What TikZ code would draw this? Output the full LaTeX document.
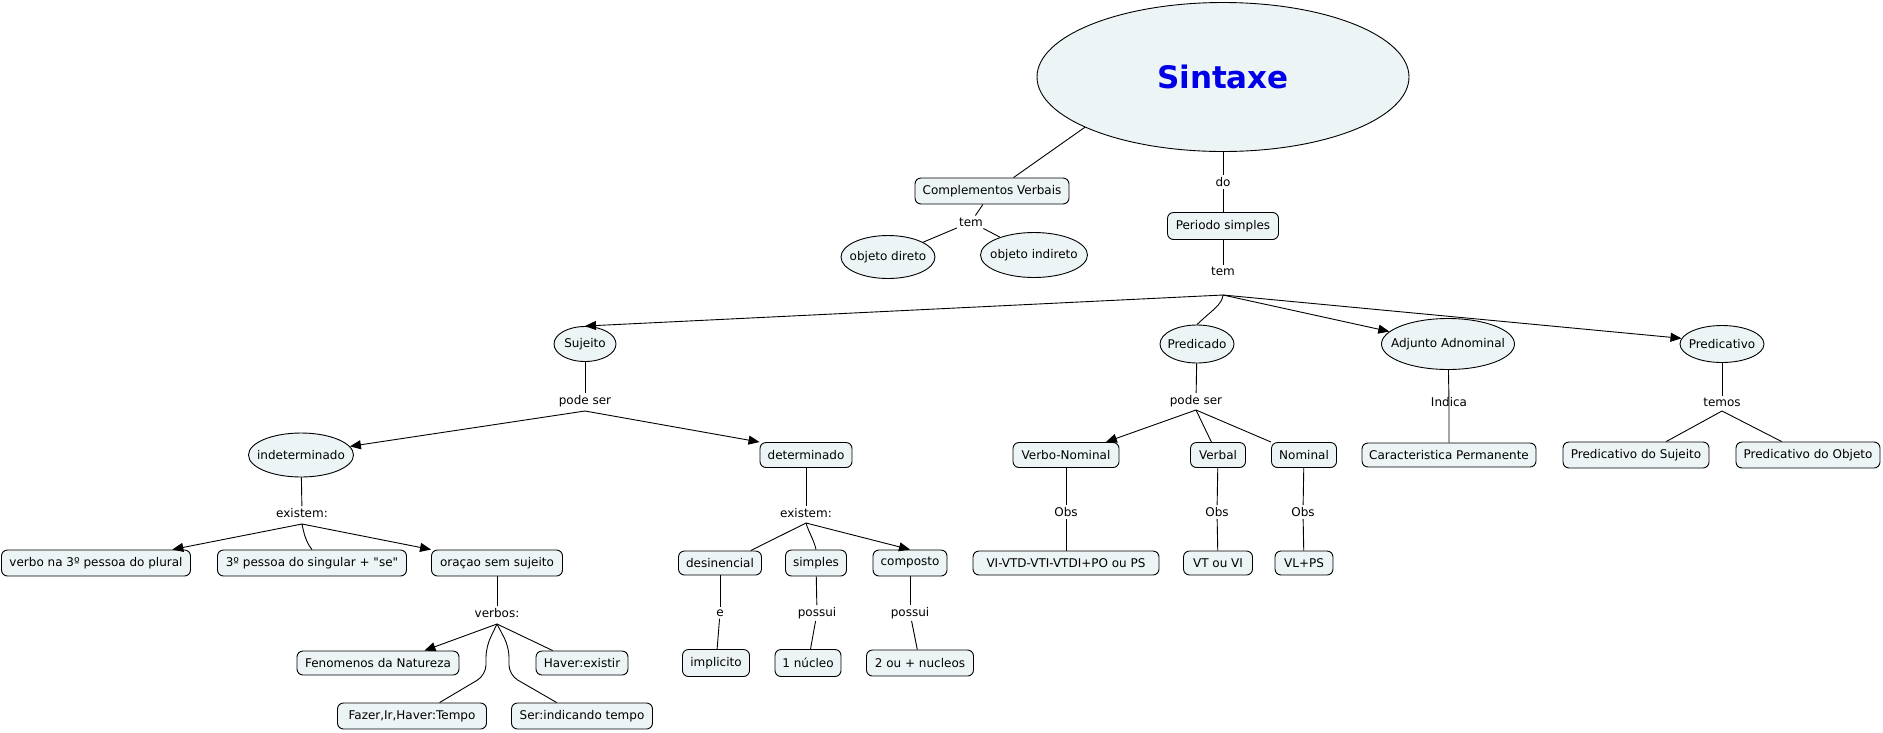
\documentclass[tikz,border=0pt]{standalone}
\usepackage{fontspec}
\setmainfont{DejaVu Sans}[Ligatures=TeXOff]
\usetikzlibrary{arrows.meta,shapes.geometric}
\definecolor{cfill}{RGB}{237,244,246}
\definecolor{sblue}{RGB}{0,0,230}
\begin{document}
\begin{tikzpicture}[x=1pt,y=-1pt,
 base/.style={draw=black, line width=0.9pt, fill=cfill, inner sep=0pt, font=\fontsize{12}{14}\selectfont},
 cbox/.style={base, rectangle, rounded corners=6pt},
 cell/.style={base, ellipse, execute at begin node={\hbox to 0pt\bgroup\hss}, execute at end node={\hss\egroup}},
 lnk/.style={inner sep=2pt, font=\fontsize{12}{14}\selectfont},
 con/.style={line width=0.9pt},
 arr/.style={con, -{Triangle[length=11pt,width=9pt]}}]
\useasboundingbox (0,0) rectangle (1883,732);
% concepts
\node[cell, minimum width=372pt, minimum height=149pt, font=\fontsize{31}{36}\selectfont\bfseries, text=sblue] (Sintaxe) at (1223,77) {Sintaxe};
\node[cbox, minimum width=154pt, minimum height=26pt] (CV) at (992,191) {Complementos Verbais};
\node[cbox, minimum width=111pt, minimum height=27pt] (PS) at (1223,226) {Periodo simples};
\node[cell, minimum width=94pt, minimum height=43pt] (OD) at (888,257) {objeto direto};
\node[cell, minimum width=107pt, minimum height=45pt] (OI) at (1034,255) {objeto indireto};
\node[cell, minimum width=62pt, minimum height=35pt] (Suj) at (585,344) {Sujeito};
\node[cell, minimum width=74pt, minimum height=38pt] (Pred) at (1197,344) {Predicado};
\node[cell, minimum width=133pt, minimum height=51pt] (Adj) at (1448,344) {Adjunto Adnominal};
\node[cell, minimum width=84pt, minimum height=37pt] (Predv) at (1722,344) {Predicativo};
\node[cell, minimum width=105pt, minimum height=44pt] (Indet) at (301,455) {indeterminado};
\node[cbox, minimum width=92pt, minimum height=25pt] (Det) at (806,455) {determinado};
\node[cbox, minimum width=106pt, minimum height=25pt] (VN) at (1066,455) {Verbo-Nominal};
\node[cbox, minimum width=55pt, minimum height=25pt] (Verbal) at (1218,455) {Verbal};
\node[cbox, minimum width=65pt, minimum height=25pt] (Nominal) at (1304,455) {Nominal};
\node[cbox, minimum width=174pt, minimum height=24pt] (Carac) at (1449,455) {Caracteristica Permanente};
\node[cbox, minimum width=146pt, minimum height=26pt] (PSuj) at (1636,455) {Predicativo do Sujeito};
\node[cbox, minimum width=144pt, minimum height=26pt] (PObj) at (1808,455) {Predicativo do Objeto};
\node[cbox, minimum width=189pt, minimum height=26pt] (V3) at (96,563) {verbo na 3º pessoa do plural};
\node[cbox, minimum width=189pt, minimum height=26pt] (S3) at (312,563) {3º pessoa do singular + "se"};
\node[cbox, minimum width=131pt, minimum height=26pt] (Or) at (497,563) {oraçao sem sujeito};
\node[cbox, minimum width=83pt, minimum height=24pt] (Des) at (720,563) {desinencial};
\node[cbox, minimum width=61pt, minimum height=26pt] (Simp) at (816,563) {simples};
\node[cbox, minimum width=74pt, minimum height=26pt] (Comp) at (910,563) {composto};
\node[cbox, minimum width=186pt, minimum height=24pt] (VI) at (1066,563) {VI-VTD-VTI-VTDI+PO ou PS};
\node[cbox, minimum width=69pt, minimum height=24pt] (VT) at (1218,563) {VT ou VI};
\node[cbox, minimum width=58pt, minimum height=24pt] (VL) at (1304,563) {VL+PS};
\node[cbox, minimum width=162pt, minimum height=24pt] (Fen) at (378,663) {Fenomenos da Natureza};
\node[cbox, minimum width=92pt, minimum height=24pt] (Hav) at (582,663) {Haver:existir};
\node[cbox, minimum width=67pt, minimum height=27pt] (Imp) at (716,663) {implicito};
\node[cbox, minimum width=66pt, minimum height=27pt] (Nuc1) at (808,663) {1 núcleo};
\node[cbox, minimum width=107pt, minimum height=26pt] (Nuc2) at (920,663) {2 ou + nucleos};
\node[cbox, minimum width=149pt, minimum height=26pt] (Faz) at (412,716) {Fazer,Ir,Haver:Tempo};
\node[cbox, minimum width=141pt, minimum height=26pt] (Ser) at (582,716) {Ser:indicando tempo};
% link labels
\node[lnk] (do) at (1223,182) {do};
\node[lnk] (temA) at (971,222) {tem};
\node[lnk] (temB) at (1223,271) {tem};
\node[lnk] (psS) at (585,401) {pode ser};
\node[lnk] (psP) at (1196,401) {pode ser};
\node[lnk] (ind) at (1449,402) {Indica};
\node[lnk] (temos) at (1722,402) {temos};
\node[lnk] (exI) at (302,513) {existem:};
\node[lnk] (exD) at (806,513) {existem:};
\node[lnk] (obs1) at (1066,512) {Obs};
\node[lnk] (obs2) at (1217,512) {Obs};
\node[lnk] (obs3) at (1303,512) {Obs};
\node[lnk] (verbos) at (497,613) {verbos:};
\node[lnk] (e) at (720,613) {e};
\node[lnk] (pos1) at (817,613) {possui};
\node[lnk] (pos2) at (910,613) {possui};
% junctions
\coordinate (jTem) at (1223,295);
\coordinate (jPS) at (585,411);
\coordinate (jPP) at (1196,410);
\coordinate (jTemos) at (1722,411);
\coordinate (jExI) at (302,524);
\coordinate (jExD) at (806,523);
\coordinate (jVerb) at (497,624);
% connectors
\draw[con] (Sintaxe.200) -- (CV.32);
\draw[con] (Sintaxe) -- (do);
\draw[con] (do) -- (PS);
\draw[con] (CV) -- (temA);
\draw[con] (temA) -- (OD);
\draw[con] (temA) -- (OI);
\draw[con] (PS) -- (temB);
\draw[arr] (jTem) -- (Suj.north);
\draw[con] (jTem) .. controls (1222,305) and (1212,310) .. (Pred.north);
\draw[arr] (jTem) -- (Adj.168);
\draw[arr] (jTem) -- (Predv.172);
% Sujeito
\draw[con] (Suj) -- (psS);
\draw[arr] (jPS) -- (Indet.10);
\draw[arr] (jPS) -- (Det.north west);
\draw[con] (Indet) -- (exI);
\draw[arr] (jExI) -- (V3.10);
\draw[con] (jExI) .. controls (304,534) and (306,542) .. (S3.north);
\draw[arr] (jExI) -- (Or.north west);
\draw[con] (Or) -- (verbos);
\draw[arr] (jVerb) -- (Fen.15);
\draw[con] (jVerb) -- (Hav.157);
\draw[con, rounded corners=10pt] (jVerb) -- (486,647) -- (486,675) -- (Faz.26);
\draw[con, rounded corners=10pt] (jVerb) -- (509,647) -- (509,675) -- (Ser.152);
\draw[con] (Det) -- (exD);
\draw[con] (jExD) -- (Des.22);
\draw[con] (jExD) .. controls (809,533) and (814,540) .. (Simp.north);
\draw[arr] (jExD) -- (Comp.north);
\draw[con] (Des) -- (e);
\draw[con] (e) -- (Imp);
\draw[con] (Simp) -- (pos1);
\draw[con] (pos1) -- (Nuc1);
\draw[con] (Comp) -- (pos2);
\draw[con] (pos2) -- (Nuc2);
% Predicado
\draw[con] (Pred) -- (psP);
\draw[arr] (jPP) -- (VN.18);
\draw[con] (jPP) -- (Verbal.117);
\draw[con] (jPP) -- (Nominal.north west);
\draw[con] (VN) -- (obs1);
\draw[con] (obs1) -- (VI);
\draw[con] (Verbal) -- (obs2);
\draw[con] (obs2) -- (VT);
\draw[con] (Nominal) -- (obs3);
\draw[con] (obs3) -- (VL);
% Adjunto
\draw[con] (Adj) -- (ind.center) -- (Carac);
% Predicativo
\draw[con] (Predv) -- (temos);
\draw[con] (jTemos) -- (PSuj.24);
\draw[con] (jTemos) -- (PObj.153);
\end{tikzpicture}
\end{document}
